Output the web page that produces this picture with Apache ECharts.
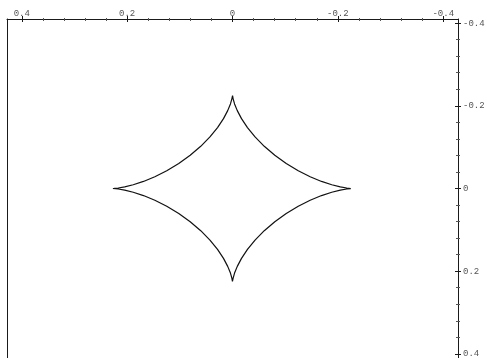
<!DOCTYPE html>
<html>
<head>
<meta charset="utf-8">
<script src="https://cdn.jsdelivr.net/npm/echarts@6/dist/echarts.min.js"></script>
<style>
  html, body { margin: 0; padding: 0; background: #ffffff; }
  #chart { width: 487px; height: 358px; }
</style>
</head>
<body>
<div id="chart"></div>
<script>
// Astroid outline, sampled every 5 degrees around the loop
const curveX = [
  0.227, 0.2244, 0.2168, 0.2046, 0.1884, 0.1690, 0.1474, 0.1248, 0.1020, 0.0803,
  0.0603, 0.0428, 0.0284, 0.0171, 0.0091, 0.0039, 0.0012, 0.0001, 0,
  -0.0001, -0.0012, -0.0039, -0.0091, -0.0171, -0.0284, -0.0428, -0.0603, -0.0803,
  -0.1020, -0.1248, -0.1474, -0.1690, -0.1884, -0.2046, -0.2168, -0.2244, -0.227,
  -0.2244, -0.2168, -0.2046, -0.1884, -0.1690, -0.1474, -0.1248, -0.1020, -0.0803,
  -0.0603, -0.0428, -0.0284, -0.0171, -0.0091, -0.0039, -0.0012, -0.0001, 0,
  0.0001, 0.0012, 0.0039, 0.0091, 0.0171, 0.0284, 0.0428, 0.0603, 0.0803,
  0.1020, 0.1248, 0.1474, 0.1690, 0.1884, 0.2046, 0.2168, 0.2244, 0.227
];
const curveY = [
  0, 0.0001, 0.0012, 0.0039, 0.0091, 0.0171, 0.0284, 0.0428, 0.0603, 0.0803,
  0.1020, 0.1248, 0.1474, 0.1690, 0.1884, 0.2046, 0.2168, 0.2244, 0.227,
  0.2244, 0.2168, 0.2046, 0.1884, 0.1690, 0.1474, 0.1248, 0.1020, 0.0803,
  0.0603, 0.0428, 0.0284, 0.0171, 0.0091, 0.0039, 0.0012, 0.0001, 0,
  -0.0001, -0.0012, -0.0039, -0.0091, -0.0171, -0.0284, -0.0428, -0.0603, -0.0803,
  -0.1020, -0.1248, -0.1474, -0.1690, -0.1884, -0.2046, -0.2168, -0.2244, -0.227,
  -0.2244, -0.2168, -0.2046, -0.1884, -0.1690, -0.1474, -0.1248, -0.1020, -0.0803,
  -0.0603, -0.0428, -0.0284, -0.0171, -0.0091, -0.0039, -0.0012, -0.0001, 0
];

// Tick positions shared by both framed axes
const majorTicks = [-0.4, -0.2, 0, 0.2, 0.4];
const minorTicks = [-0.36, -0.32, -0.28, -0.24, -0.16, -0.12, -0.08, -0.04,
                    0.04, 0.08, 0.12, 0.16, 0.24, 0.28, 0.32, 0.36];

const xRange = [-0.428, 0.428];
const yRange = [-0.41, 0.41];

const points = curveX.map((x, i) => [x, curveY[i]]);

const labelFont = {
  fontFamily: '"Liberation Mono", "DejaVu Sans Mono", monospace',
  fontSize: 9,
  color: '#555555'
};
const fmt = v => String(+(+v).toFixed(1));

// One axis layer: optional line and labels, ticks at given values on one side
function layer(kind, position, ticks, inside, len, color, withLine, withLabel) {
  const range = kind === 'x' ? xRange : yRange;
  return {
    type: 'value',
    position: position,
    min: range[0],
    max: range[1],
    inverse: true,
    axisLine: { show: withLine, onZero: false, lineStyle: { color: '#1a1a1a', width: 1 } },
    axisTick: {
      show: ticks.length > 0,
      inside: inside,
      length: len,
      customValues: ticks,
      lineStyle: { color: color, width: 1 }
    },
    axisLabel: withLabel
      ? Object.assign({ show: true, customValues: majorTicks, formatter: fmt,
          margin: kind === 'x' ? 1 : 5, hideOverlap: false }, labelFont)
      : { show: false },
    splitLine: { show: false },
    minorTick: { show: false },
    axisPointer: { show: false }
  };
}

const chart = echarts.init(document.getElementById('chart'), null, { renderer: 'canvas' });

chart.setOption({
  animation: false,
  backgroundColor: '#ffffff',
  grid: {
    left: 7, right: 29, top: 19, height: 339,
    containLabel: false,
    outerBoundsMode: 'none'
  },
  xAxis: [
    layer('x', 'top', majorTicks, false, 3, '#1a1a1a', true, true),
    layer('x', 'top', majorTicks, true, 3, '#1a1a1a', false, false),
    layer('x', 'top', minorTicks, false, 1, '#555555', false, false),
    layer('x', 'top', minorTicks, true, 2, '#555555', false, false)
  ],
  yAxis: [
    layer('y', 'right', majorTicks, false, 3, '#1a1a1a', true, true),
    layer('y', 'right', majorTicks, true, 3, '#1a1a1a', false, false),
    layer('y', 'right', minorTicks, false, 2, '#555555', false, false),
    layer('y', 'right', minorTicks, true, 2, '#555555', false, false),
    layer('y', 'left', [], false, 0, '#1a1a1a', true, false)
  ],
  series: [{
    type: 'line',
    xAxisIndex: 0,
    yAxisIndex: 0,
    data: points,
    showSymbol: false,
    smooth: false,
    clip: false,
    lineStyle: { color: '#111111', width: 1.2 }
  }]
});
</script>
</body>
</html>
